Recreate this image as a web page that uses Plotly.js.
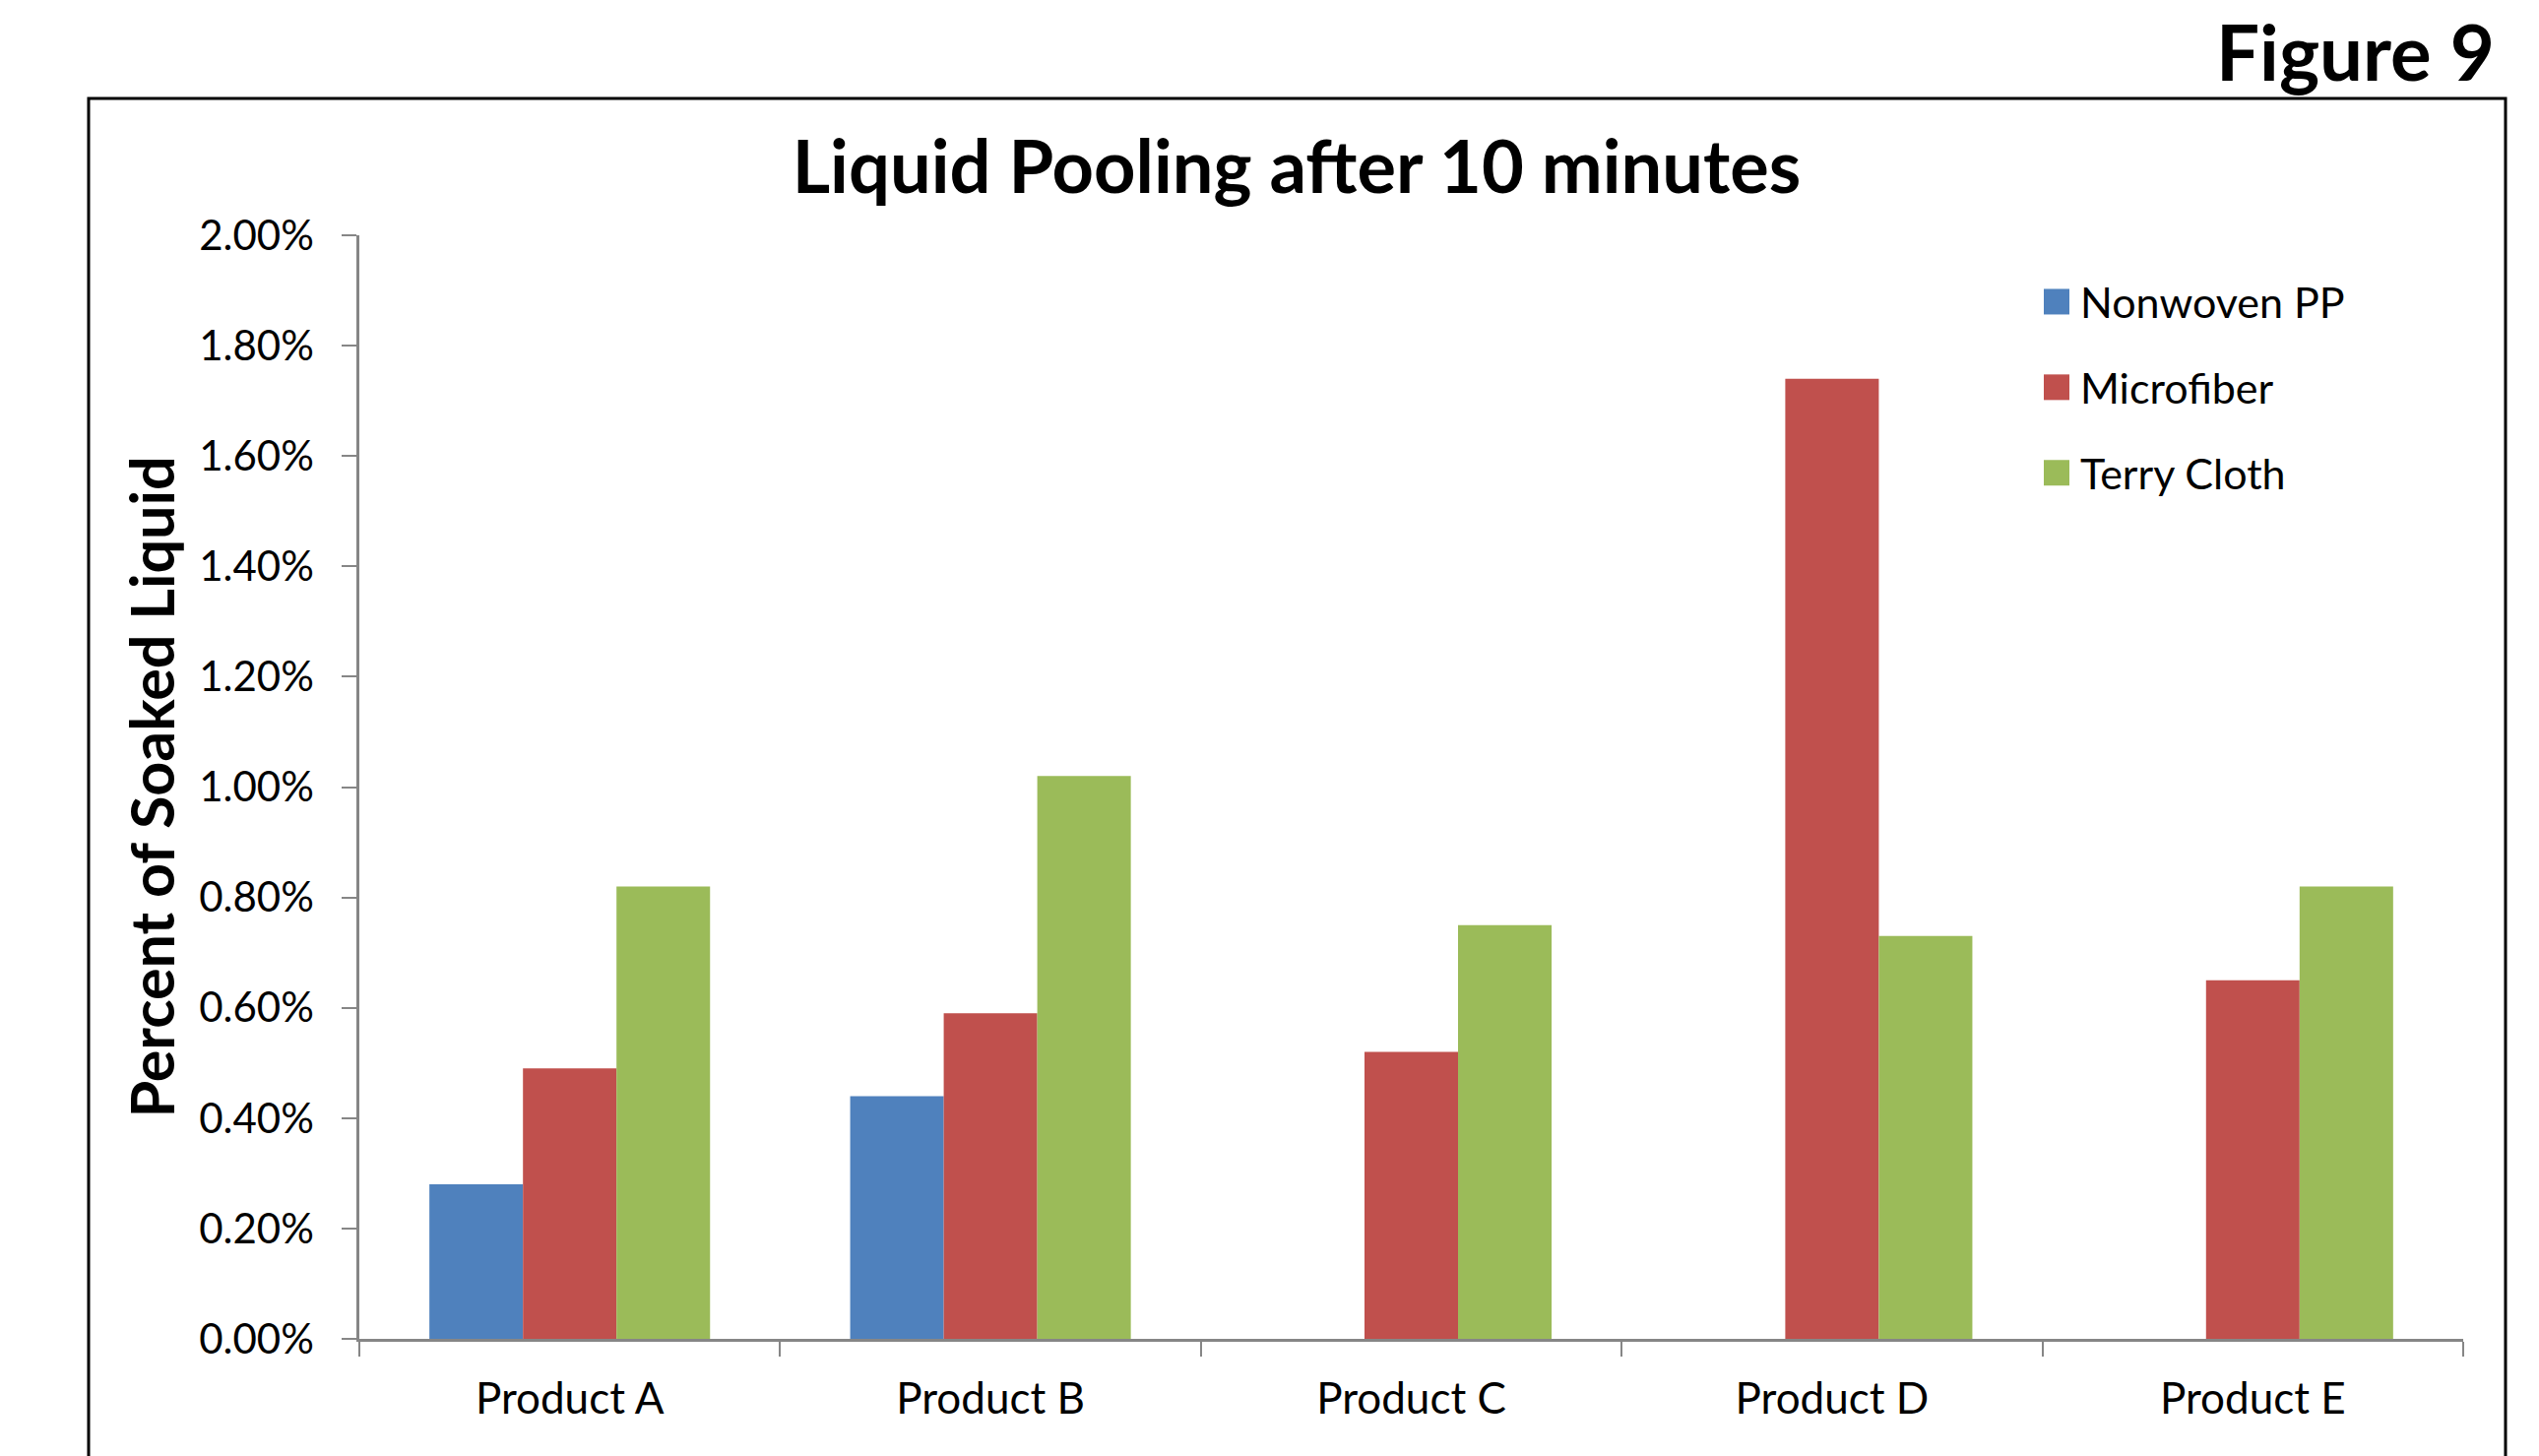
<!DOCTYPE html>
<html>
<head>
<meta charset="utf-8">
<script src="https://cdn.plot.ly/plotly-3.0.1.min.js"></script>
<style>
  html, body { margin: 0; padding: 0; background: #ffffff; }
  #chart { width: 2579px; height: 1479px; }
  .legend .legendpoints path { d: path("M9,13H-17V-13H9Z"); }
  text { font-variant-ligatures: none; }
</style>
</head>
<body>
<div id="chart"></div>
<script>
const categories = ["Product A", "Product B", "Product C", "Product D", "Product E"];
const seriesNames = ["Nonwoven PP", "Microfiber", "Terry Cloth"];
const nonwovenPP = [0.0028, 0.0044, null, null, null];
const microfiber = [0.0049, 0.0059, 0.0052, 0.0174, 0.0065];
const terryCloth = [0.0082, 0.0102, 0.0075, 0.0073, 0.0082];
const yTickValues = [0, 0.002, 0.004, 0.006, 0.008, 0.010, 0.012, 0.014, 0.016, 0.018, 0.020];
const chartTitle = "Liquid Pooling after 10 minutes";
const yAxisTitle = "Percent of Soaked Liquid";
const figureLabel = "Figure 9";

const colors = ["#4F81BD", "#C0504D", "#9BBB59"];
const values = [nonwovenPP, microfiber, terryCloth];

const W = 2579, H = 1479;
const mL = 365, mR = 77, mT = 239, mB = 119;
const pw = W - mL - mR, ph = H - mT - mB;
const px2x = p => (p - mL) / pw;
const py2y = p => (H - mB - p) / ph;

const FONT = "Lato, 'Open Sans', sans-serif";

const traces = seriesNames.map((name, i) => ({
  type: "bar",
  name: name,
  x: categories,
  y: values[i],
  marker: { color: colors[i], line: { width: 0 } },
  legendgroup: "g" + i,
  hoverinfo: "x+y+name"
}));

const layout = {
  width: W,
  height: H,
  margin: { l: mL, r: mR, t: mT, b: mB, pad: 0 },
  paper_bgcolor: "#ffffff",
  plot_bgcolor: "#ffffff",
  font: { family: FONT, color: "#000000", size: 42 },
  barmode: "group",
  bargap: 0.333,
  bargroupgap: 0,
  showlegend: true,
  title: {
    text: "<b>" + chartTitle + "</b>",
    font: { family: FONT, size: 74, color: "#000000" },
    x: 1317 / W,
    xref: "container",
    xanchor: "center",
    y: 1 - 170 / H,
    yref: "container",
    yanchor: "middle"
  },
  xaxis: {
    type: "category",
    showgrid: false,
    zeroline: false,
    showline: true,
    linecolor: "#868686",
    linewidth: 2.5,
    ticks: "outside",
    tickson: "boundaries",
    ticklen: 15,
    tickwidth: 2,
    tickcolor: "#868686",
    tickfont: { family: FONT, size: 44, color: "#000000" },
    ticklabelstandoff: 20,
    fixedrange: true
  },
  yaxis: {
    range: [0, 0.02],
    tickvals: yTickValues,
    tickformat: ".2%",
    showgrid: false,
    zeroline: false,
    showline: true,
    linecolor: "#868686",
    linewidth: 2.5,
    ticks: "outside",
    ticklen: 15,
    tickwidth: 2,
    tickcolor: "#868686",
    tickfont: { family: FONT, size: 42, color: "#000000" },
    ticklabelstandoff: 20,
    title: {
      text: "<b>" + yAxisTitle + "</b>",
      font: { family: FONT, size: 61, color: "#000000" },
      standoff: 5
    },
    automargin: false,
    fixedrange: true
  },
  legend: {
    x: px2x(2073),
    xanchor: "left",
    y: py2y(272),
    yanchor: "top",
    bgcolor: "rgba(0,0,0,0)",
    borderwidth: 0,
    font: { family: FONT, size: 43, color: "#000000" },
    tracegroupgap: 28,
    traceorder: "grouped"
  },
  shapes: [
    {
      type: "rect",
      xref: "paper", yref: "paper",
      x0: px2x(90), x1: px2x(2545),
      y0: py2y(1500), y1: py2y(100),
      line: { color: "#000000", width: 3 },
      fillcolor: "rgba(0,0,0,0)",
      layer: "below"
    }
  ],
  annotations: [
    {
      text: "<b>" + figureLabel + "</b>",
      xref: "paper", yref: "paper",
      x: px2x(2536), xanchor: "right",
      y: py2y(52), yanchor: "middle",
      showarrow: false,
      font: { family: FONT, size: 78, color: "#000000" }
    }
  ]
};

Plotly.newPlot("chart", traces, layout, { displayModeBar: false, staticPlot: false });
</script>
</body>
</html>
